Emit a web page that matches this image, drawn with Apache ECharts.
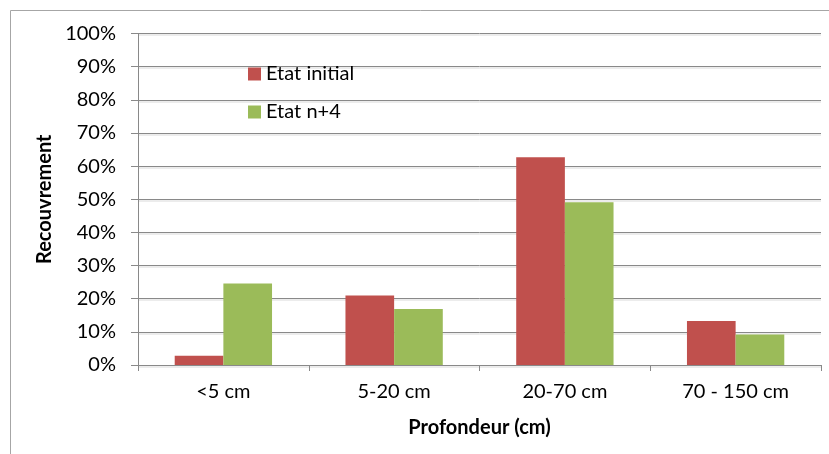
<!DOCTYPE html>
<html>
<head>
<meta charset="utf-8">
<script src="https://cdn.jsdelivr.net/npm/echarts@6/dist/echarts.min.js"></script>
<style>
html,body{margin:0;padding:0;background:#fff;}
#chart{width:829px;height:454px;}
</style>
</head>
<body>
<div id="chart"></div>
<script>
const categories = ['<5 cm', '5-20 cm', '20-70 cm', '70 - 150 cm'];
const etatInitial = [0.028, 0.210, 0.627, 0.133];
const etatN4 = [0.246, 0.169, 0.491, 0.092];
const seriesNames = ['Etat initial', 'Etat n+4'];
const xAxisTitle = 'Profondeur (cm)';
const yAxisTitle = 'Recouvrement';

const FONT = 'Lato';
const chart = echarts.init(document.getElementById('chart'));
chart.setOption({
  animation: false,
  backgroundColor: '#ffffff',
  textStyle: { fontFamily: FONT },
  graphic: [{
    type: 'rect',
    shape: { x: 10.5, y: 10.5, width: 830, height: 460 },
    style: { fill: null, stroke: '#a6a6a6', lineWidth: 1 },
    silent: true, z: -1
  }],
  grid: { left: 138, right: 8, top: 33.5, bottom: 89, containLabel: false },
  legend: {
    orient: 'vertical',
    left: 243,
    top: 59,
    padding: 5,
    icon: 'rect',
    itemWidth: 13,
    itemHeight: 13,
    itemGap: 18,
    textStyle: { fontFamily: FONT, fontSize: 20, color: '#000', lineHeight: 20 },
    data: seriesNames
  },
  xAxis: {
    type: 'category',
    data: categories,
    name: xAxisTitle,
    nameLocation: 'middle',
    nameGap: 53,
    nameTextStyle: { fontFamily: FONT, fontSize: 20, fontWeight: 'bold', color: '#000' },
    axisLine: { show: true, lineStyle: { color: '#898989', width: 1 } },
    axisTick: { show: true, length: 6, lineStyle: { color: '#898989' } },
    axisLabel: { fontFamily: FONT, fontSize: 20, color: '#000', margin: 17 }
  },
  yAxis: {
    type: 'value',
    min: 0, max: 1, interval: 0.1,
    name: yAxisTitle,
    nameLocation: 'middle',
    nameRotate: 90,
    nameGap: 79,
    nameTextStyle: { fontFamily: FONT, fontSize: 20, fontWeight: 'bold', color: '#000' },
    axisLine: { show: true, lineStyle: { color: '#898989', width: 1 } },
    axisTick: { show: true, length: 7, lineStyle: { color: '#898989' } },
    axisLabel: {
      fontFamily: FONT, fontSize: 20, color: '#000', margin: 22,
      formatter: v => Math.round(v * 100) + '%'
    },
    splitLine: { show: true, lineStyle: { color: '#898989', width: 1, shadowColor: '#d9d9d9', shadowOffsetY: 1.5, shadowBlur: 0 } }
  },
  series: [
    { name: seriesNames[0], type: 'bar', data: etatInitial, barGap: '0%', barCategoryGap: '43%', itemStyle: { color: '#C0504D' } },
    { name: seriesNames[1], type: 'bar', data: etatN4, barGap: '0%', barCategoryGap: '43%', itemStyle: { color: '#9BBB59' } }
  ]
});
</script>
</body>
</html>
